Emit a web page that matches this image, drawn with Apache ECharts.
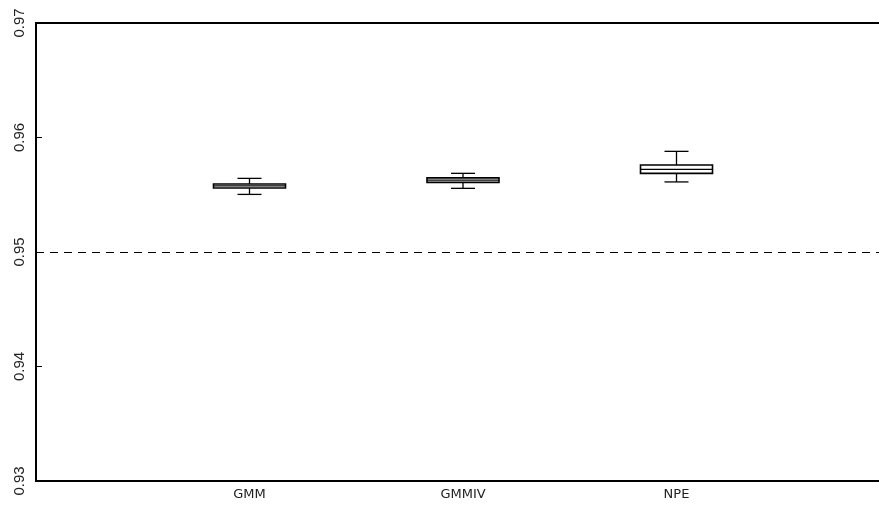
<!DOCTYPE html>
<html>
<head>
<meta charset="utf-8">
<script src="https://cdn.jsdelivr.net/npm/echarts@6/dist/echarts.min.js"></script>
<style>
  html, body { margin: 0; padding: 0; background: #fff; }
  #chart { width: 879px; height: 506px; }
</style>
</head>
<body>
<div id="chart"></div>
<script>
const categories = ['GMM', 'GMMIV', 'NPE'];
const lowerWhisker = [0.95503, 0.95556, 0.95612];
const q1 = [0.95559, 0.95608, 0.95687];
const median = [0.95577, 0.95627, 0.95722];
const q3 = [0.95594, 0.95647, 0.95760];
const upperWhisker = [0.95643, 0.95687, 0.95879];
const referenceLevel = 0.95;
const yMin = 0.93, yMax = 0.97, yStep = 0.01;

const boxData = categories.map((c, i) => [i + 1, lowerWhisker[i], q1[i], median[i], q3[i], upperWhisker[i]]);

const BOX_W = 72, CAP_W = 24;

const chart = echarts.init(document.getElementById('chart'), null, { renderer: 'canvas' });
chart.setOption({
  animation: false,
  backgroundColor: '#fff',
  grid: {
    left: 36, top: 23, bottom: 25, width: 854,
    containLabel: false, outerBoundsMode: 'none',
    show: true, borderColor: '#000', borderWidth: 2, backgroundColor: 'transparent'
  },
  xAxis: {
    type: 'value', min: 0, max: categories.length + 1, interval: 1,
    axisLine: { show: false }, axisTick: { show: false }, splitLine: { show: false },
    axisLabel: {
      margin: 7, color: '#222', fontSize: 13, fontFamily: 'DejaVu Sans',
      formatter: v => categories[v - 1] || ''
    }
  },
  yAxis: {
    type: 'value', min: yMin, max: yMax, interval: yStep,
    axisLine: { show: false },
    axisTick: { show: true, inside: true, length: 6, lineStyle: { color: '#000', width: 1 } },
    splitLine: { show: false },
    axisLabel: {
      rotate: 90, margin: 9, color: '#222', fontSize: 15, fontFamily: 'Liberation Sans',
      formatter: v => v.toFixed(2)
    }
  },
  series: [{
    type: 'custom',
    data: boxData,
    encode: { x: 0, y: [1, 2, 3, 4, 5] },
    renderItem: function (params, api) {
      const x = api.value(0);
      const pt = v => api.coord([x, v]);
      const cx = pt(api.value(3))[0];
      const yLo = pt(api.value(1))[1];
      const yQ1 = pt(api.value(2))[1];
      const yMed = pt(api.value(3))[1];
      const yQ3 = pt(api.value(4))[1];
      const yHi = pt(api.value(5))[1];
      const ls = { stroke: '#000', lineWidth: 1.3 };
      return {
        type: 'group',
        children: [
          { type: 'line', shape: { x1: cx, y1: yHi, x2: cx, y2: yQ3 }, style: ls },
          { type: 'line', shape: { x1: cx, y1: yQ1, x2: cx, y2: yLo }, style: ls },
          { type: 'line', shape: { x1: cx - CAP_W / 2, y1: yHi, x2: cx + CAP_W / 2, y2: yHi }, style: ls },
          { type: 'line', shape: { x1: cx - CAP_W / 2, y1: yLo, x2: cx + CAP_W / 2, y2: yLo }, style: ls },
          { type: 'rect', shape: { x: cx - BOX_W / 2, y: yQ3, width: BOX_W, height: yQ1 - yQ3 },
            style: { fill: '#fff', stroke: '#000', lineWidth: 1.6 } },
          { type: 'line', shape: { x1: cx - BOX_W / 2, y1: yMed, x2: cx + BOX_W / 2, y2: yMed },
            style: { stroke: '#000', lineWidth: 1.3 } }
        ]
      };
    },
    markLine: {
      silent: true, symbol: 'none', label: { show: false },
      lineStyle: { color: '#000', type: [8, 6], width: 1 },
      data: [{ yAxis: referenceLevel }]
    }
  }]
});
</script>
</body>
</html>
